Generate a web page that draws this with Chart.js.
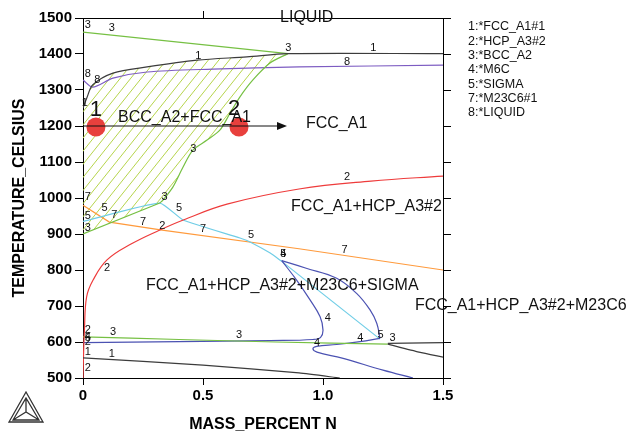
<!DOCTYPE html>
<html>
<head>
<meta charset="utf-8">
<script src="https://cdn.jsdelivr.net/npm/chart.js@4.4.0/dist/chart.umd.min.js"></script>
<style>
html, body { margin: 0; padding: 0; background: #fff; }
#wrap { width: 631px; height: 435px; }
</style>
</head>
<body>
<div id="wrap"><canvas id="grafica"></canvas></div>
<script>
// points are [mass percent N, temperature C]
const fccTop = [[0,1250],[0.017,1280],[0.04,1314],[0.125,1347],[0.267,1364],[0.475,1383],[0.683,1392],[0.854,1401],[1.5,1401]];
const fccLow = [[0,556],[0.5,536],[0.9,514],[1.07,500]];
const fccRightA = [[1.27,596],[1.5,598]];
const fccRightB = [[1.27,594],[1.4,572],[1.5,558]];
const hcpLine = [[0,500],[0.002,560],[0.006,633],[0.015,725],[0.042,772],[0.1,828],[0.2,872],[0.32,911],[0.418,939],[0.6,983],[0.9,1025],[1.2,1047],[1.5,1061]];
const bccTop = [[0,1461],[0.854,1401]];
const bccDiag = [[0.854,1401],[0.779,1375],[0.708,1328],[0.654,1281],[0.613,1236],[0.571,1189],[0.517,1161],[0.458,1133],[0.417,1086],[0.375,1031],[0.333,994],[0.32,986]];
const bccLow = [[0,900],[0.32,986]];
const bcc600 = [[0,614],[0.4,607],[0.8,600],[1.27,594]];
const m6cLeft = [[0,598],[0.4,601],[0.78,604],[0.96,607],[0.99,613],[1.0,633],[0.988,670],[0.946,717],[0.89,772],[0.828,826]];
const m6cRight = [[0.828,826],[0.93,805],[1.057,777],[1.14,735],[1.196,689],[1.224,652],[1.2375,610]];
const m6cLow = [[1.2375,610],[1.154,601],[1.057,593],[0.974,588],[0.958,581],[0.975,572],[1.08,555],[1.25,522],[1.375,500]];
const sigmaLeft = [[0,935],[0.32,986],[0.417,939],[0.654,889],[0.696,878],[0.78,847],[0.828,824]];
const sigmaDiag = [[0.828,824],[1.2375,608]];
const m23c6Line = [[0,980],[0.11,933],[0.33,911],[0.9,859],[1.5,800]];
const liquidLine = [[0,1328],[0.04,1308],[0.125,1333],[0.267,1350],[0.54,1358],[0.9,1364],[1.5,1369]];
const calcPoints = [[0.054,1197],[0.65,1197]];

const xTicks = [0, 0.5, 1.0, 1.5];
const yTicks = [500, 600, 700, 800, 900, 1000, 1100, 1200, 1300, 1400, 1500];

const legendLines = ['1:*FCC_A1#1', '2:*HCP_A3#2', '3:*BCC_A2', '4:*M6C', '5:*SIGMA', '7:*M23C6#1', '8:*LIQUID'];

// region names, [x, T, text] (left edge, vertical centre)
const regionNames = [
  [0.821, 1500, 'LIQUID'],
  [0.146, 1222, 'BCC_A2+FCC_A1'],
  [0.929, 1208, 'FCC_A1'],
  [0.867, 975, 'FCC_A1+HCP_A3#2'],
  [0.2625, 756, 'FCC_A1+HCP_A3#2+M23C6+SIGMA'],
  [1.383, 700, 'FCC_A1+HCP_A3#2+M23C6']
];

// line numbers, [x, T, text]
const lineNums = [
  [0.02,1481,'3'],[0.12,1472,'3'],[0.855,1417,'3'],[0.48,1394,'1'],[1.21,1417,'1'],
  [0.02,1344,'8'],[0.06,1328,'8'],[1.1,1378,'8'],[0.008,1265,'1'],
  [0.46,1136,'3'],[0.34,1003,'3'],[0.4,972,'5'],
  [0.02,1003,'7'],[0.09,972,'5'],[0.02,950,'5'],[0.13,953,'7'],[0.02,917,'3'],
  [0.25,933,'7'],[0.33,922,'2'],[0.5,914,'7'],[0.7,897,'5'],[1.09,856,'7'],
  [1.1,1058,'2'],[0.1,806,'2'],[0.835,844,'5'],[0.835,844,'4'],
  [1.02,667,'4'],[0.975,597,'4'],[1.155,611,'4'],[1.24,619,'5'],[1.29,611,'3'],
  [0.125,628,'3'],[0.65,619,'3'],[0.02,572,'1'],[0.12,567,'1'],[0.02,528,'2'],
  [0.02,633,'2'],[0.02,614,'4'],[0.02,612,'5'],[0.02,600,'2']
];

const bigNums = [[0.054,1245,'1'],[0.63,1248,'2']];

const BLACK = '#3c3c3c', GREEN = '#76c043', RED = '#ee3b3b', BLUE = '#4b52b2',
      CYAN = '#6fcde6', ORANGE = '#ff9a3c', PURPLE = '#7d5cc2', HATCH = '#b6d44c';

function curve(pts, color, tension) {
  return {
    data: pts.map(p => ({ x: p[0], y: p[1] })),
    borderColor: color,
    borderWidth: 1.2,
    pointRadius: 0,
    showLine: true,
    fill: false,
    tension: tension || 0
  };
}

const datasets = [
  curve(fccTop, BLACK, 0.3),
  curve(fccLow, BLACK, 0.2),
  curve(fccRightA, BLACK),
  curve(fccRightB, BLACK, 0.2),
  curve(hcpLine, RED, 0.4),
  curve(bccTop, GREEN),
  curve(bccDiag, GREEN, 0.3),
  curve(bccLow, GREEN),
  curve(bcc600, GREEN, 0.2),
  curve(m6cLeft, BLUE, 0.4),
  curve(m6cRight, BLUE, 0.4),
  curve(m6cLow, BLUE, 0.4),
  curve(sigmaLeft, CYAN, 0.15),
  curve(sigmaDiag, CYAN),
  curve(m23c6Line, ORANGE),
  curve(liquidLine, PURPLE, 0.3),
  {
    data: calcPoints.map(p => ({ x: p[0], y: p[1] })),
    pointRadius: 9.5,
    pointBackgroundColor: '#e8403d',
    pointBorderWidth: 0,
    showLine: false
  }
];

function pt(chart, p) {
  return [chart.scales.x.getPixelForValue(p[0]), chart.scales.y.getPixelForValue(p[1])];
}

const hatchPlugin = {
  id: 'hatch',
  beforeDatasetsDraw(chart) {
    const ctx = chart.ctx, area = chart.chartArea;
    const poly = [].concat(bccLow, bccDiag.slice().reverse(), fccTop.slice(0, 8).reverse());
    ctx.save();
    ctx.beginPath();
    poly.forEach((p, i) => {
      const q = pt(chart, p);
      if (i === 0) ctx.moveTo(q[0], q[1]); else ctx.lineTo(q[0], q[1]);
    });
    ctx.closePath();
    ctx.clip();
    ctx.strokeStyle = HATCH;
    ctx.lineWidth = 1;
    const h = area.bottom - area.top;
    for (let x0 = area.left - h; x0 < area.right; x0 += 10.5) {
      ctx.beginPath();
      ctx.moveTo(x0, area.bottom);
      ctx.lineTo(x0 + h / 1.25, area.top);
      ctx.stroke();
    }
    ctx.restore();
  }
};

const frameAndTextPlugin = {
  id: 'frameText',
  afterDatasetsDraw(chart) {
    const ctx = chart.ctx, area = chart.chartArea;
    const sx = chart.scales.x, sy = chart.scales.y;
    ctx.save();
    // frame: top and right
    ctx.strokeStyle = '#000';
    ctx.lineWidth = 1;
    ctx.beginPath();
    ctx.moveTo(area.left, Math.round(area.top) + 0.5);
    ctx.lineTo(area.right, Math.round(area.top) + 0.5);
    ctx.moveTo(Math.round(area.right) + 0.5, area.top);
    ctx.lineTo(Math.round(area.right) + 0.5, area.bottom);
    yTicks.forEach(t => {
      const y = Math.round(sy.getPixelForValue(t)) + 0.5;
      ctx.moveTo(area.right, y);
      ctx.lineTo(area.right + 8, y);
    });
    const xt = Math.round(sx.getPixelForValue(0.5)) + 0.5;
    ctx.moveTo(xt, area.top);
    ctx.lineTo(xt, area.top - 7);
    ctx.stroke();

    // arrow at 1200 C
    const a0 = pt(chart, [0, 1200]), a1 = pt(chart, [0.85, 1200]);
    ctx.strokeStyle = '#111';
    ctx.beginPath();
    ctx.moveTo(a0[0], a0[1]);
    ctx.lineTo(a1[0] - 6, a1[1]);
    ctx.stroke();
    ctx.fillStyle = '#111';
    ctx.beginPath();
    ctx.moveTo(a1[0], a1[1]);
    ctx.lineTo(a1[0] - 10, a1[1] - 4);
    ctx.lineTo(a1[0] - 10, a1[1] + 4);
    ctx.closePath();
    ctx.fill();

    // line numbers
    ctx.fillStyle = '#111';
    ctx.font = '11px "Liberation Sans", Arial, sans-serif';
    ctx.textAlign = 'center';
    ctx.textBaseline = 'middle';
    lineNums.forEach(n => {
      const q = pt(chart, n);
      ctx.fillText(n[2], q[0], q[1]);
    });

    // big point numbers
    ctx.font = '22px "Liberation Sans", Arial, sans-serif';
    bigNums.forEach(n => {
      const q = pt(chart, n);
      ctx.fillText(n[2], q[0], q[1]);
    });

    // region names
    ctx.font = '16px "Liberation Sans", Arial, sans-serif';
    ctx.textAlign = 'left';
    regionNames.forEach(n => {
      const q = pt(chart, n);
      ctx.fillText(n[2], q[0], q[1]);
    });

    // legend of line numbers
    ctx.font = '12.5px "Liberation Sans", Arial, sans-serif';
    legendLines.forEach((s, i) => {
      ctx.fillText(s, area.right + 25, 27 + i * 14.3);
    });

    // Thermo-Calc logo
    ctx.strokeStyle = '#333';
    ctx.lineWidth = 1.3;
    const L = 9, R = 43, B = 422, T = 392, cx = 26, cy = 412;
    ctx.beginPath();
    ctx.moveTo(L, B); ctx.lineTo(R, B); ctx.lineTo(cx, T); ctx.closePath();
    ctx.moveTo(L + 4, B - 2); ctx.lineTo(R - 4, B - 2); ctx.lineTo(cx, T + 6); ctx.closePath();
    ctx.moveTo(L + 4, B - 2); ctx.lineTo(cx, cy); ctx.lineTo(R - 4, B - 2);
    ctx.moveTo(cx, T + 6); ctx.lineTo(cx, cy);
    ctx.stroke();
    ctx.restore();
  }
};

const tickFont = { family: '"Liberation Sans", Arial, sans-serif', size: 15, weight: 'bold' };
const titleFont = { family: '"Liberation Sans", Arial, sans-serif', size: 16, weight: 'bold' };

new Chart(document.getElementById('grafica'), {
  type: 'scatter',
  data: { datasets: datasets },
  options: {
    responsive: true,
    maintainAspectRatio: false,
    animation: false,
    devicePixelRatio: 1,
    layout: { padding: { top: 18, right: 188, left: 0, bottom: 0 } },
    plugins: { legend: { display: false }, tooltip: { enabled: false } },
    scales: {
      x: {
        type: 'linear',
        min: 0, max: 1.5,
        afterBuildTicks: s => { s.ticks = xTicks.map(v => ({ value: v })); },
        afterFit: s => { s.height = 57; },
        ticks: {
          color: '#000', font: tickFont, padding: 2, autoSkip: false, maxRotation: 0,
          callback: v => v === 0 ? '0' : v.toFixed(1)
        },
        grid: { drawOnChartArea: false, drawTicks: true, tickLength: 7, color: '#000', tickColor: '#000' },
        border: { display: true, color: '#000', width: 1 },
        title: { display: true, text: 'MASS_PERCENT N', color: '#000', font: titleFont, padding: { top: 0, bottom: 1 } }
      },
      y: {
        type: 'linear',
        min: 500, max: 1500,
        afterBuildTicks: s => { s.ticks = yTicks.map(v => ({ value: v })); },
        afterFit: s => { s.width = 83; },
        ticks: { color: '#000', font: tickFont, padding: 3, autoSkip: false, callback: v => String(v) },
        grid: { drawOnChartArea: false, drawTicks: true, tickLength: 8, color: '#000', tickColor: '#000' },
        border: { display: true, color: '#000', width: 1 },
        title: { display: true, text: 'TEMPERATURE_CELSIUS', color: '#000', font: titleFont, padding: { top: 10, bottom: 0 } }
      }
    }
  },
  plugins: [hatchPlugin, frameAndTextPlugin]
});
</script>
</body>
</html>
